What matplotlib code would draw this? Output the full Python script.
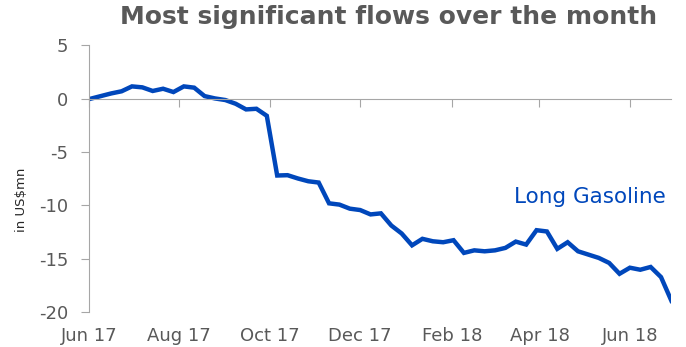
import numpy as np
import pandas as pd
import matplotlib
matplotlib.use("Agg")
import matplotlib.pyplot as plt
import matplotlib.dates as mdates

# weekly cumulative flows, US$mn
dates = pd.date_range("2017-06-02", periods=57, freq="7D")
long_gasoline = [
    0.0, 0.25, 0.5, 0.7, 1.16, 1.07, 0.73, 0.94, 0.63, 1.16,
    1.04, 0.25, 0.03, -0.12, -0.47, -1.0, -0.94, -1.6, -7.2, -7.17,
    -7.48, -7.74, -7.86, -9.81, -9.93, -10.31, -10.44, -10.85, -10.75, -11.89,
    -12.64, -13.75, -13.14, -13.37, -13.46, -13.27, -14.46, -14.22, -14.31, -14.22,
    -13.99, -13.4, -13.68, -12.33, -12.45, -14.08, -13.46, -14.31, -14.62, -14.93,
    -15.4, -16.42, -15.85, -16.04, -15.78, -16.73, -18.95,
]
yticks = [5, 0, -5, -10, -15, -20]
xtick_dates = pd.date_range("2017-06-01", "2018-06-01", freq="2MS")

blue = "#0047BB"
grey = "#595959"
axis_grey = "#A6A6A6"

fig = plt.figure(figsize=(6.86, 3.47), dpi=100)
ax = fig.add_axes([0.1297, 0.101, 0.849, 0.768])

ax.plot(dates, long_gasoline, color=blue, lw=3.2, solid_joinstyle="miter")

ax.set_ylim(-20, 5)
ax.set_xlim(pd.Timestamp("2017-06-01"), dates[-1])
ax.set_yticks(yticks)
ax.set_yticklabels([str(v) for v in yticks])

for s in ["top", "right"]:
    ax.spines[s].set_visible(False)
ax.spines["left"].set_color(axis_grey)
ax.spines["bottom"].set_color(axis_grey)
ax.spines["bottom"].set_position(("data", 0))

ax.set_xticks(xtick_dates)
ax.tick_params(axis="x", direction="out", length=6, color=axis_grey, labelbottom=False)
ax.tick_params(axis="y", direction="out", length=6, color=axis_grey,
               labelsize=13, labelcolor=grey, pad=9)

# month labels sit along the bottom edge, ticks stay on the zero line
sec = ax.secondary_xaxis("bottom")
sec.set_xticks(xtick_dates)
sec.xaxis.set_major_formatter(mdates.DateFormatter("%b %y"))
sec.tick_params(length=0, labelsize=13, labelcolor=grey, pad=11)
sec.spines["bottom"].set_visible(False)

fig.text(0.032, 0.424, "in US$mn", fontsize=9.5, color="#262626",
         rotation=90, ha="center", va="center")

ax.text(0.99, 0.43, "Long Gasoline", transform=ax.transAxes, color=blue,
        fontsize=15.5, ha="right", va="center")

fig.text(0.566, 0.95, "Most significant flows over the month", color=grey,
         fontsize=18, fontweight="bold", ha="center", va="center")

fig.savefig("out.png", dpi=100)
